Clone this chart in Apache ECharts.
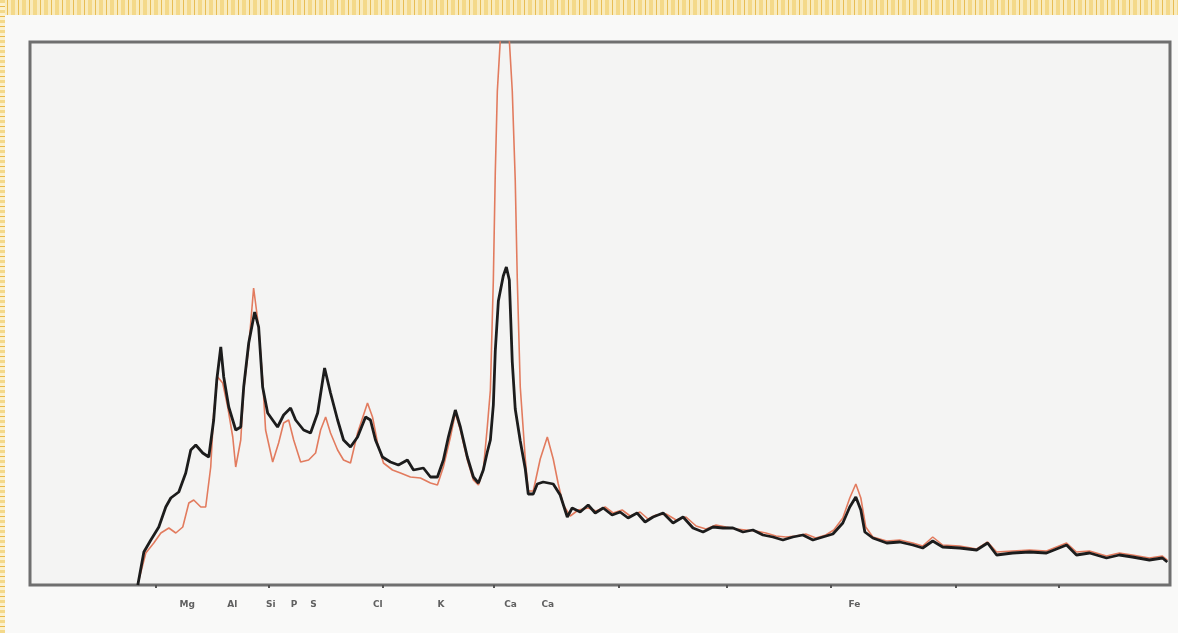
<!DOCTYPE html>
<html>
<head>
<meta charset="utf-8">
<script src="https://cdn.jsdelivr.net/npm/echarts@6/dist/echarts.min.js"></script>
<style>
  html, body { margin: 0; padding: 0; background: #f9f9f8; }
  #wrap { position: relative; width: 1178px; height: 633px; overflow: hidden; background: #f9f9f8; }
  #topband { position: absolute; left: 0; top: 0; width: 1178px; height: 15px;
    background: repeating-linear-gradient(90deg, #f4d98a 0 4px, #f9ebbd 4px 7px, #e8bd55 7px 8px, #f9ebbd 8px 11px); }
  #leftband { position: absolute; left: 0; top: 0; width: 5px; height: 633px;
    background: repeating-linear-gradient(180deg, #f4d98a 0 3px, #fbf1cf 3px 6px, #e9b949 6px 7px, #fbf1cf 7px 10px); }
  #chart { position: absolute; left: 0; top: 0; width: 1178px; height: 633px; }
</style>
</head>
<body>
<div id="wrap">
  <div id="topband"></div>
  <div id="leftband"></div>
  <div id="chart"></div>
</div>
<script>
// X-ray energy (keV) and counts for the two spectra
const blackEnergy = [
  0.837, 0.884, 0.938, 1.000, 1.054, 1.093, 1.155, 1.209, 1.248, 1.287,
  1.341, 1.388, 1.426, 1.450, 1.481, 1.504, 1.543, 1.597, 1.636, 1.659,
  1.698, 1.744, 1.775, 1.806, 1.845, 1.922, 1.969, 2.023, 2.062, 2.124,
  2.178, 2.233, 2.287, 2.333, 2.388, 2.434, 2.488, 2.543, 2.605, 2.643,
  2.682, 2.736, 2.798, 2.860, 2.930, 2.977, 3.054, 3.109, 3.163, 3.209,
  3.248, 3.302, 3.341, 3.395, 3.442, 3.481, 3.519, 3.550, 3.574, 3.597,
  3.612, 3.636, 3.674, 3.698, 3.721, 3.744, 3.767, 3.806, 3.845, 3.868,
  3.907, 3.938, 3.984, 4.062, 4.116, 4.171, 4.209, 4.271, 4.333, 4.388,
  4.450, 4.519, 4.581, 4.643, 4.713, 4.775, 4.837, 4.915, 4.992, 5.070,
  5.147, 5.225, 5.302, 5.380, 5.457, 5.535, 5.612, 5.690, 5.767, 5.845,
  5.922, 6.000, 6.078, 6.155, 6.233, 6.310, 6.364, 6.411, 6.450, 6.481,
  6.543, 6.651, 6.752, 6.853, 6.930, 7.008, 7.085, 7.217, 7.349, 7.434,
  7.504, 7.628, 7.760, 7.891, 8.047, 8.124, 8.225, 8.357, 8.457, 8.558,
  8.690, 8.791, 8.829
];
const blackCounts = [
  0, 33, 45, 58, 78, 87, 93, 112, 135, 140,
  132, 128, 165, 205, 238, 208, 178, 155, 158, 198,
  242, 273, 258, 198, 172, 158, 170, 177, 165, 155,
  152, 172, 217, 192, 165, 145, 138, 148, 168, 165,
  145, 128, 123, 120, 125, 115, 117, 108, 108, 125,
  148, 175, 158, 128, 108, 102, 115, 133, 145, 180,
  234, 284, 309, 318, 305, 223, 176, 144, 116, 91,
  91, 101, 103, 101, 90, 68, 77, 73, 80, 72,
  77, 70, 73, 67, 72, 63, 68, 72, 62, 68,
  57, 53, 58, 57, 57, 53, 55, 50, 48, 45,
  48, 50, 45, 48, 51, 62, 78, 88, 75, 53,
  47, 42, 43, 40, 37, 44, 38, 37, 35, 42,
  30, 32, 33, 32, 40, 30, 32, 27, 30, 28,
  25, 27, 23
];
const redEnergy = [
  0.845, 0.899, 0.961, 1.016, 1.078, 1.132, 1.186, 1.233, 1.271, 1.326,
  1.364, 1.403, 1.426, 1.457, 1.496, 1.535, 1.574, 1.597, 1.636, 1.659,
  1.698, 1.736, 1.775, 1.806, 1.829, 1.884, 1.930, 1.969, 2.008, 2.047,
  2.101, 2.163, 2.217, 2.256, 2.295, 2.333, 2.388, 2.434, 2.488, 2.543,
  2.620, 2.659, 2.698, 2.744, 2.814, 2.876, 2.953, 3.031, 3.109, 3.163,
  3.209, 3.264, 3.302, 3.341, 3.395, 3.442, 3.481, 3.519, 3.550, 3.574,
  3.597, 3.612, 3.628, 3.651, 3.682, 3.721, 3.744, 3.767, 3.783, 3.806,
  3.845, 3.868, 3.907, 3.961, 4.016, 4.062, 4.101, 4.140, 4.194, 4.256,
  4.333, 4.395, 4.465, 4.527, 4.597, 4.659, 4.736, 4.798, 4.860, 4.938,
  5.016, 5.093, 5.171, 5.248, 5.326, 5.403, 5.481, 5.558, 5.636, 5.713,
  5.791, 5.868, 5.946, 6.023, 6.101, 6.178, 6.240, 6.310, 6.364, 6.411,
  6.450, 6.488, 6.543, 6.651, 6.752, 6.853, 6.930, 7.008, 7.085, 7.217,
  7.349, 7.434, 7.504, 7.628, 7.760, 7.891, 8.047, 8.124, 8.225, 8.357,
  8.457, 8.558, 8.690, 8.791, 8.829
];
const redCounts = [
  5, 32, 42, 52, 57, 52, 58, 82, 85, 78,
  78, 118, 172, 208, 202, 178, 148, 118, 145, 195,
  238, 297, 258, 205, 155, 123, 142, 162, 165, 145,
  123, 125, 132, 155, 168, 152, 135, 125, 122, 152,
  182, 168, 142, 122, 115, 112, 108, 107, 102, 100,
  118, 148, 172, 155, 125, 105, 100, 115, 158, 195,
  305, 412, 494, 545, 735, 545, 494, 405, 305, 198,
  126, 94, 94, 126, 148, 126, 101, 80, 69, 75,
  77, 74, 78, 72, 75, 69, 73, 66, 70, 71,
  65, 68, 59, 56, 60, 58, 56, 55, 54, 52,
  49, 48, 49, 51, 47, 50, 55, 67, 87, 101,
  87, 58, 48, 44, 45, 42, 39, 48, 40, 39,
  36, 43, 33, 34, 35, 34, 42, 33, 34, 29,
  32, 30, 27, 29, 25
];
// element line labels under the axis
const labelNames = ['Mg', 'Al', 'Si', 'P', 'S', 'Cl', 'K', 'Ca', 'Ca', 'Fe'];
const labelEnergies = [1.22, 1.57, 1.87, 2.05, 2.20, 2.70, 3.19, 3.73, 4.02, 6.40];
const tickEnergies = [0.98, 1.85, 2.74, 3.60, 4.57, 5.41, 6.22, 7.19, 7.99];

const xMax = 8.85;
const yMax = 543;

function zip(a, b) { return a.map((v, i) => [v, b[i]]); }

const chart = echarts.init(document.getElementById('chart'), null, { renderer: 'canvas' });
chart.setOption({
  animation: false,
  backgroundColor: 'transparent',
  grid: {
    left: 30, right: 8, top: 42, bottom: 48,
    show: true, backgroundColor: '#f4f4f3',
    borderColor: '#6f6f6f', borderWidth: 3
  },
  xAxis: {
    type: 'value', min: 0, max: xMax,
    axisLine: { show: false },
    splitLine: { show: false },
    axisTick: { show: true, inside: false, length: 3, customValues: tickEnergies,
      lineStyle: { color: '#555', width: 2 } },
    axisLabel: {
      customValues: labelEnergies,
      margin: 15,
      fontSize: 9, color: '#606060', fontWeight: 'bold',
      fontFamily: 'DejaVu Sans',
      formatter: function (v) {
        let best = 0, d = Infinity;
        labelEnergies.forEach((e, i) => { if (Math.abs(e - v) < d) { d = Math.abs(e - v); best = i; } });
        return labelNames[best];
      }
    }
  },
  yAxis: {
    type: 'value', min: 0, max: yMax,
    axisLine: { show: false }, axisTick: { show: false },
    axisLabel: { show: false }, splitLine: { show: false }
  },
  series: [
    {
      type: 'line', data: zip(redEnergy, redCounts),
      showSymbol: false, clip: true, z: 2,
      lineStyle: { color: '#e27b5e', width: 1.6 }
    },
    {
      type: 'line', data: zip(blackEnergy, blackCounts),
      showSymbol: false, clip: true, z: 3,
      lineStyle: { color: '#1c1c1c', width: 2.8 }
    }
  ]
});
</script>
</body>
</html>
